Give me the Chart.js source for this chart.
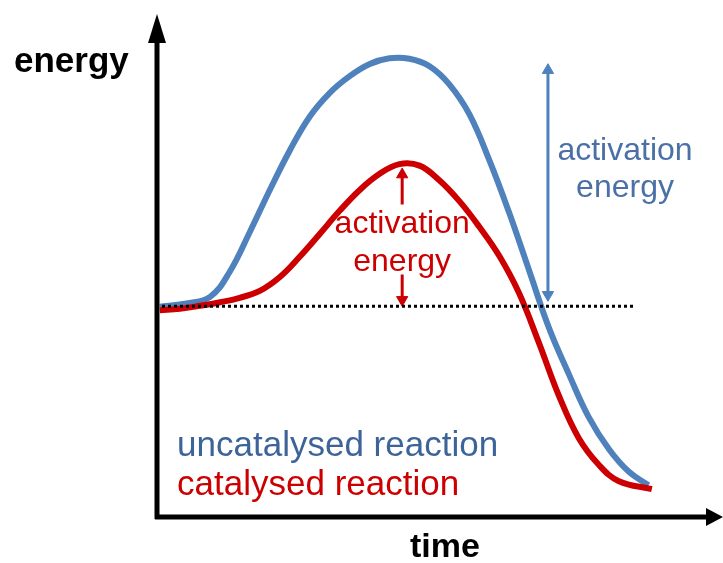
<!DOCTYPE html>
<html>
<head>
<meta charset="utf-8">
<script src="https://cdn.jsdelivr.net/npm/chart.js@4/dist/chart.umd.min.js"></script>
<style>
html, body { margin: 0; padding: 0; background: #fff; }
</style>
</head>
<body>
<canvas id="chart" width="723" height="563"></canvas>
<script>
// time (x) and energy (y), both on a 0-100 scale
const uncatTime = [0.5, 5.0, 9.5, 13.0, 16.6, 20.2, 23.8, 27.3, 30.9, 34.5, 38.0, 41.6, 45.2, 48.8, 52.3, 55.9, 59.5, 63.0, 66.6, 70.2, 73.8, 77.3, 80.9, 84.5, 88.0];
const uncatEnergy = [42.3, 42.9, 44.3, 49.3, 57.3, 65.8, 73.8, 80.5, 85.3, 88.7, 91.1, 92.3, 92.2, 90.7, 87.1, 81.1, 71.8, 61.4, 49.7, 38.0, 28.6, 20.1, 13.7, 9.1, 6.4];

const catTime = [0.5, 4.1, 7.7, 11.3, 14.8, 18.4, 22.0, 25.5, 29.1, 32.7, 36.3, 39.8, 43.4, 47.0, 50.5, 54.1, 57.7, 61.3, 64.8, 68.4, 72.0, 75.5, 79.1, 82.7, 88.6];
const catEnergy = [41.6, 41.9, 42.5, 43.2, 44.1, 45.5, 48.3, 52.3, 56.9, 61.6, 65.8, 69.0, 71.0, 70.7, 67.8, 63.6, 58.4, 52.5, 45.1, 35.0, 24.3, 15.9, 10.5, 7.2, 5.6];

// starting level (dotted line)
const baseTime = [0.9, 85.7];
const baseEnergy = [42.4, 42.4];

// activation energy arrows
const uncatArrowTime = [70.0, 70.0];
const uncatArrowEnergy = [89.9, 44.7];
const catUpTime = [43.9, 43.9];
const catUpEnergy = [62.9, 68.9];
const catDownTime = [43.9, 43.9];
const catDownEnergy = [48.8, 43.7];

const blue = '#4f81bd';
const red = '#cc0000';
const font = '"Liberation Sans", Arial, sans-serif';

const pts = (xs, ys) => xs.map((x, i) => ({ x: x, y: ys[i] }));

// text on the plot, placed in time/energy units
const notes = [
    { text: 'activation', t: 43.9, e: 57.1, color: red, align: 'center', size: 32 },
    { text: 'energy', t: 43.9, e: 49.5, color: red, align: 'center', size: 32 },
    { text: 'activation', t: 83.8, e: 71.8, color: '#4a70a6', align: 'center', size: 32 },
    { text: 'energy', t: 83.8, e: 64.4, color: '#4a70a6', align: 'center', size: 32 },
    { text: 'uncatalysed reaction', t: 3.6, e: 12.3, color: '#3d6499', align: 'left', size: 35 },
    { text: 'catalysed reaction', t: 3.6, e: 4.4, color: red, align: 'left', size: 35 }
];

const axesPlugin = {
    id: 'axes',
    afterDraw(chart) {
        const c = chart.ctx;
        const a = chart.chartArea;
        const xs = chart.scales.x, ys = chart.scales.y;
        c.save();
        c.fillStyle = '#000';
        c.strokeStyle = '#000';
        c.lineWidth = 5;
        // y axis with arrow
        c.beginPath();
        c.moveTo(a.left, a.bottom + 2);
        c.lineTo(a.left, 40);
        c.stroke();
        c.beginPath();
        c.moveTo(a.left, 14);
        c.lineTo(a.left - 9, 43);
        c.lineTo(a.left + 9, 43);
        c.closePath();
        c.fill();
        // x axis with arrow
        c.beginPath();
        c.moveTo(a.left - 2, a.bottom);
        c.lineTo(710, a.bottom);
        c.stroke();
        c.beginPath();
        c.moveTo(723, a.bottom);
        c.lineTo(706, a.bottom - 9);
        c.lineTo(706, a.bottom + 9);
        c.closePath();
        c.fill();

        c.font = 'bold 35px ' + font;
        c.textAlign = 'left';
        c.textBaseline = 'alphabetic';
        c.fillText('energy', 14, 72);
        c.font = 'bold 34px ' + font;
        c.textAlign = 'center';
        c.fillText('time', 445, 557);

        notes.forEach(n => {
            c.font = n.size + 'px ' + font;
            c.fillStyle = n.color;
            c.textAlign = n.align;
            c.fillText(n.text, xs.getPixelForValue(n.t), ys.getPixelForValue(n.e));
        });
        c.restore();
    }
};

const ctx = document.getElementById('chart').getContext('2d');
new Chart(ctx, {
    type: 'line',
    data: {
        datasets: [
            {
                label: 'base',
                data: pts(baseTime, baseEnergy),
                borderColor: '#000',
                borderWidth: 3,
                borderDash: [3, 3],
                pointRadius: 0,
                order: 0
            },
            {
                label: 'uncatalysed arrow',
                data: pts(uncatArrowTime, uncatArrowEnergy),
                borderColor: blue,
                backgroundColor: blue,
                borderWidth: 3,
                pointStyle: 'triangle',
                pointRadius: 6.5,
                pointBorderWidth: 1,
                pointRotation: [0, 180],
                order: 1
            },
            {
                label: 'catalysed arrow up',
                data: pts(catUpTime, catUpEnergy),
                borderColor: red,
                backgroundColor: red,
                borderWidth: 3,
                pointStyle: 'triangle',
                pointRadius: [0, 6.5],
                pointBorderWidth: 1,
                pointRotation: 0,
                order: 1
            },
            {
                label: 'catalysed arrow down',
                data: pts(catDownTime, catDownEnergy),
                borderColor: red,
                backgroundColor: red,
                borderWidth: 3,
                pointStyle: 'triangle',
                pointRadius: [0, 6.5],
                pointBorderWidth: 1,
                pointRotation: 180,
                order: 1
            },
            {
                label: 'catalysed reaction',
                data: pts(catTime, catEnergy),
                borderColor: red,
                borderWidth: 6,
                pointRadius: 0,
                tension: 0.4,
                order: 2
            },
            {
                label: 'uncatalysed reaction',
                data: pts(uncatTime, uncatEnergy),
                borderColor: blue,
                borderWidth: 6,
                pointRadius: 0,
                tension: 0.4,
                order: 3
            }
        ]
    },
    options: {
        responsive: false,
        animation: false,
        layout: { padding: { left: 157, right: 6, top: 20, bottom: 46 } },
        plugins: {
            legend: { display: false },
            tooltip: { enabled: false }
        },
        scales: {
            x: { type: 'linear', min: 0, max: 100, display: false },
            y: { type: 'linear', min: 0, max: 100, display: false }
        }
    },
    plugins: [axesPlugin]
});
</script>
</body>
</html>
